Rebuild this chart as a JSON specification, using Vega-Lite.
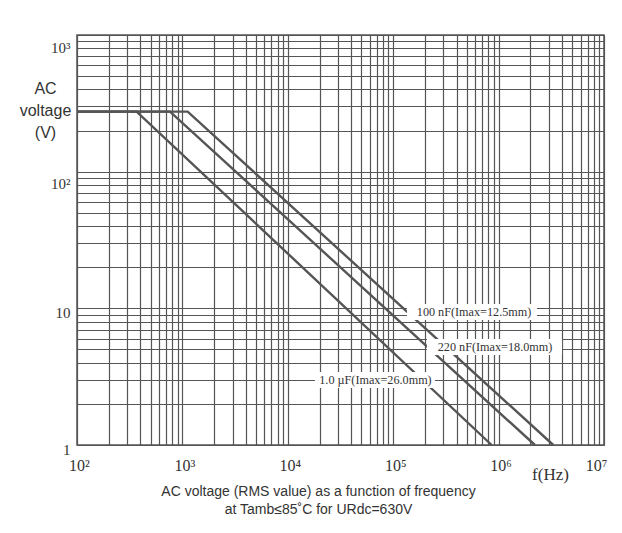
{
  "$schema": "https://vega.github.io/schema/vega-lite/v6.json",
  "width": 527,
  "height": 410,
  "autosize": {"type": "none"},
  "padding": {"left": 77, "top": 35, "right": 18, "bottom": 88},
  "background": "white",
  "config": {
    "view": {"stroke": "#555", "strokeWidth": 1.5},
    "axis": {"gridColor": "#555", "gridOpacity": 1, "gridWidth": 1.2, "domain": false, "ticks": false, "labelColor": "#333", "titleColor": "#333"}
  },
  "title": {
    "text": ["AC voltage (RMS value) as a function of frequency", "at Tamb≤85˚C  for URdc=630V"],
    "orient": "bottom",
    "anchor": "middle",
    "font": "Liberation Sans",
    "fontSize": 14,
    "fontWeight": "normal",
    "color": "#333",
    "lineHeight": 18,
    "dx": -22,
    "offset": 3
  },
  "datasets": {
    "curves": [
      {"series": "100 nF", "f": 100, "V": 275},
      {"series": "100 nF", "f": 1122, "V": 275},
      {"series": "100 nF", "f": 3300000, "V": 1},
      {"series": "220 nF", "f": 100, "V": 275},
      {"series": "220 nF", "f": 763, "V": 275},
      {"series": "220 nF", "f": 2210000, "V": 1},
      {"series": "1.0 µF", "f": 100, "V": 275},
      {"series": "1.0 µF", "f": 368, "V": 275},
      {"series": "1.0 µF", "f": 859000, "V": 1}
    ],
    "labels": [
      {"label": "100 nF(Imax=12.5mm)", "f": 135000, "f2": 2310000, "V": 10.76, "V2": 8.22, "fc": 585000, "Vc": 9.4},
      {"label": "220 nF(Imax=18.0mm)", "f": 209000, "f2": 4000000, "V": 5.97, "V2": 4.56, "fc": 925000, "Vc": 5.24},
      {"label": "1.0 µF(Imax=26.0mm)", "f": 18100, "f2": 249000, "V": 3.42, "V2": 2.61, "fc": 67900, "Vc": 2.99}
    ]
  },
  "layer": [
    {
      "data": {"name": "curves"},
      "mark": {"type": "line", "color": "#555", "strokeWidth": 2.4},
      "encoding": {
        "x": {
          "field": "f", "type": "quantitative",
          "scale": {"type": "log", "domain": [100, 10000000], "nice": false},
          "axis": {
            "title": "f(Hz)",
            "titleFont": "Liberation Serif", "titleFontSize": 17, "titleFontWeight": "normal",
            "titleX": 473, "titleY": 29, "titleBaseline": "middle", "titleAlign": "center",
            "values": [100,200,300,400,500,600,700,800,900,1000,2000,3000,4000,5000,6000,7000,8000,9000,10000,20000,30000,40000,50000,60000,70000,80000,90000,100000,200000,300000,400000,500000,600000,700000,800000,900000,1000000,2000000,3000000,4000000,5000000,6000000,7000000,8000000,9000000,10000000],
            "labelExpr": "indexof([100,1000,10000,100000,1000000,10000000], datum.value) >= 0 ? '10' + ['²','³','⁴','⁵','⁶','⁷'][indexof([100,1000,10000,100000,1000000,10000000], datum.value)] : ''",
            "labelFont": "Liberation Serif", "labelFontSize": 16,
            "labelPadding": 12, "labelFlush": false, "labelOverlap": false,
            "labelOffset": {"condition": {"test": "datum.value >= 10000000", "value": -8}, "value": 2}
          }
        },
        "y": {
          "field": "V", "type": "quantitative",
          "scale": {"type": "log", "domain": [1, 1000], "nice": false},
          "axis": {
            "title": ["AC", "voltage", "(V)"],
            "titleFont": "Liberation Sans", "titleFontSize": 16, "titleFontWeight": "normal",
            "titleAngle": 0, "titleAlign": "center", "titleBaseline": "top",
            "titleX": -32, "titleY": 45, "titleLineHeight": 22,
            "values": [1,2,3,4,5,6,7,8,9,10,20,30,40,50,60,70,80,90,100,200,300,400,500,600,700,800,900,1000],
            "labelExpr": "datum.value == 1 ? '1' : datum.value == 10 ? '10' : datum.value == 100 ? '10²' : datum.value == 1000 ? '10³' : ''",
            "labelFont": "Liberation Serif", "labelFontSize": 15,
            "labelPadding": 7, "labelOverlap": false,
            "labelOffset": {"condition": {"test": "datum.value >= 100", "value": 12}, "value": 4}
          }
        },
        "detail": {"field": "series"}
      }
    },
    {
      "data": {"name": "labels"},
      "mark": {"type": "rect", "color": "white", "opacity": 1},
      "encoding": {
        "x": {"field": "f", "type": "quantitative"},
        "x2": {"field": "f2"},
        "y": {"field": "V", "type": "quantitative"},
        "y2": {"field": "V2"}
      }
    },
    {
      "data": {"name": "labels"},
      "mark": {"type": "text", "font": "Liberation Serif", "fontSize": 12.2, "color": "#333", "align": "center", "baseline": "middle"},
      "encoding": {
        "x": {"field": "fc", "type": "quantitative"},
        "y": {"field": "Vc", "type": "quantitative"},
        "text": {"field": "label"}
      }
    }
  ]
}
